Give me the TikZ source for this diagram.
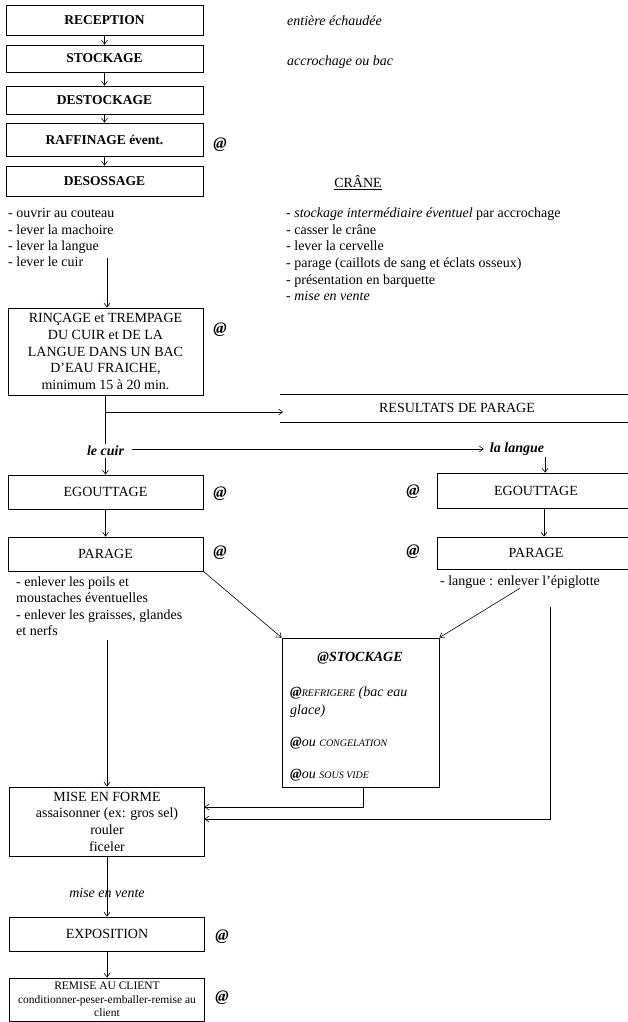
\documentclass[tikz,border=0pt]{standalone}
\usepackage{fontspec}
\setmainfont{Liberation Serif}
\usetikzlibrary{arrows.meta}
\begin{document}
\begin{tikzpicture}[x=1pt,y=-1pt,
  every node/.style={font=\fontsize{14}{16.7}\selectfont, inner sep=0pt},
  box/.style={draw, line width=0.8pt, minimum width=197pt, align=center},
  bb/.style={font=\fontsize{13.5}{16}\selectfont\bfseries},
  atsign/.style={font=\fontsize{16}{16}\selectfont\bfseries\itshape},
  arr/.style={-{Straight Barb[length=4pt,width=6pt]}, line width=0.6pt},
  ln/.style={line width=0.8pt},
  li/.style={anchor=base west},
]
\useasboundingbox (0,0) rectangle (627,1022);

% main column
\node[box,bb,minimum height=30pt] (rec) at (104.5,20) {RECEPTION};
\node[box,bb,minimum height=27pt] (sto) at (104.5,58.5) {STOCKAGE};
\node[box,bb,minimum height=28pt] (dst) at (104.5,100) {DESTOCKAGE};
\node[box,bb,minimum height=33pt] (raf) at (104.5,139.5) {RAFFINAGE évent.};
\node[box,bb,minimum height=30pt] (des) at (104.5,181) {DESOSSAGE};
\node[atsign] (a1) at (220,145) {@};

\node[li] (n1) at (287,26) {\itshape entière échaudée};
\node[li] (n2) at (287,66) {\itshape accrochage ou bac};

\node[li] (d1) at (8,217) {- ouvrir au couteau};
\node[li] (d2) at (8,234) {- lever la machoire};
\node[li] (d3) at (8,250) {- lever la langue};
\node[li] (d4) at (8,266) {- lever le cuir};

\node (cr) at (358,183) {\underline{CRÂNE}};
\node[li] (c1) at (286,217) {- \textit{stockage intermédiaire éventuel} par accrochage};
\node[li] (c2) at (286,234) {- casser le crâne};
\node[li] (c3) at (286,250) {- lever la cervelle};
\node[li] (c4) at (286,267) {- parage (caillots de sang et éclats osseux)};
\node[li] (c5) at (286,284) {- présentation en barquette};
\node[li] (c6) at (286,300) {\itshape - mise en vente};

\node[box,minimum width=195pt,minimum height=87pt] (rin) at (105.5,351.5)
  {RINÇAGE et TREMPAGE\\DU CUIR et DE LA\\LANGUE DANS UN BAC\\D'EAU FRAICHE,\\minimum 15 à 20 min.};
\node[atsign] (a2) at (220,330) {@};

\node (rp) at (457,408) {RESULTATS DE PARAGE};
\coordinate (r1a) at (280,394); \coordinate (r1b) at (630,394);
\coordinate (r2a) at (280,422); \coordinate (r2b) at (630,422);

\node[inner sep=2pt] (cu) at (105.5,451) {\bfseries\itshape le cuir};
\node (la) at (517,449) {\bfseries\itshape la langue};

\node[box,minimum width=195pt,minimum height=34pt] (eg1) at (105.5,492) {EGOUTTAGE};
\node[box,minimum width=195pt,minimum height=34pt] (pa1) at (105.5,554) {PARAGE};
\node[atsign] (a3) at (220,494) {@};
\node[atsign] (a4) at (220,553) {@};

\node[box,minimum width=198pt,minimum height=35pt] (eg2) at (536,490.5) {EGOUTTAGE};
\node[box,minimum width=198pt,minimum height=32pt] (pa2) at (536,553) {PARAGE};
\node[atsign] (a5) at (413,492) {@};
\node[atsign] (a6) at (413,552) {@};

\node[li] (p1) at (16,586) {- enlever les poils et};
\node[li] (p2) at (16,602) {moustaches éventuelles};
\node[li] (p3) at (16,619) {- enlever les graisses, glandes};
\node[li] (p4) at (16,635) {et nerfs};
\node[anchor=base] (lg) at (520,585) {- langue : enlever l'épiglotte};

% storage box
\node[draw,line width=0.8pt,minimum width=157pt,minimum height=149pt] (stk) at (360.5,712.5) {};
\node (s0) at (360,658) {\bfseries\itshape @STOCKAGE};
\node[li] (s1) at (290,696) {\itshape{\bfseries @}{\fontsize{10}{12}\selectfont REFRIGERE} (bac eau};
\node[li] (s2) at (290,714) {\itshape glace)};
\node[li] (s3) at (290,746) {\itshape{\bfseries @}ou {\fontsize{10}{12}\selectfont CONGELATION}};
\node[li] (s4) at (290,778) {\itshape{\bfseries @}ou {\fontsize{10}{12}\selectfont SOUS VIDE}};

\node[box,minimum width=195pt,minimum height=69pt] (mise) at (107,821.5)
  {MISE EN FORME\\assaisonner (ex: gros sel)\\rouler\\ficeler};
\node (mv) at (107,893) {\itshape mise en vente};
\node[box,minimum width=195pt,minimum height=34pt] (expo) at (107,934) {EXPOSITION};
\node[atsign] (a7) at (222,937) {@};
\node[box,minimum width=195pt,minimum height=43pt,font=\fontsize{11.5}{13.5}\selectfont] (rem) at (107,999.5)
  {REMISE AU CLIENT\\conditionner-peser-emballer-remise au\\client};
\node[atsign] (a8) at (222,998) {@};

% connectors
\draw[arr] (rec) -- (sto);
\draw[arr] (sto) -- (dst);
\draw[arr] (dst) -- (raf);
\draw[arr] (raf) -- (des);
\coordinate (k1) at (107,258);
\draw[arr] (k1) -- (k1 |- rin.north);
\draw[ln, line width=0.6pt] (rin) -- (cu);
\draw[arr] (cu) -- (eg1);
\coordinate (br) at (105.5,412); \coordinate (brE) at (283,412);
\draw[arr] (br) -- (brE);
\draw[ln] (r1a) -- (r1b);
\draw[ln] (r2a) -- (r2b);
\coordinate (cuE) at (132,449);
\draw[arr] (cuE) -- ([xshift=-6pt]cuE -| la.west);
\coordinate (lgA) at (545,457);
\draw[arr] (lgA) -- (lgA |- eg2.north);
\draw[arr] (eg1) -- (pa1);
\draw[arr] ([xshift=8pt]eg2.south) -- ([xshift=8pt]pa2.north);
\draw[arr] (pa1.south east) -- (stk.north west);
\draw[arr] (lg.south) -- (stk.north east);
\coordinate (pv) at (107,640);
\draw[arr] (pv) -- (pv |- mise.north);
\coordinate (m1) at (204.5,807);
\coordinate (m2) at (204.5,819);
\coordinate (rv) at (550,607);
\draw[arr] ([xshift=2.5pt]stk.south) |- (m1);
\draw[arr] (rv) |- (m2);
\draw[arr] (mise) -- (expo);
\draw[arr] (expo) -- (rem);
\end{tikzpicture}
\end{document}
